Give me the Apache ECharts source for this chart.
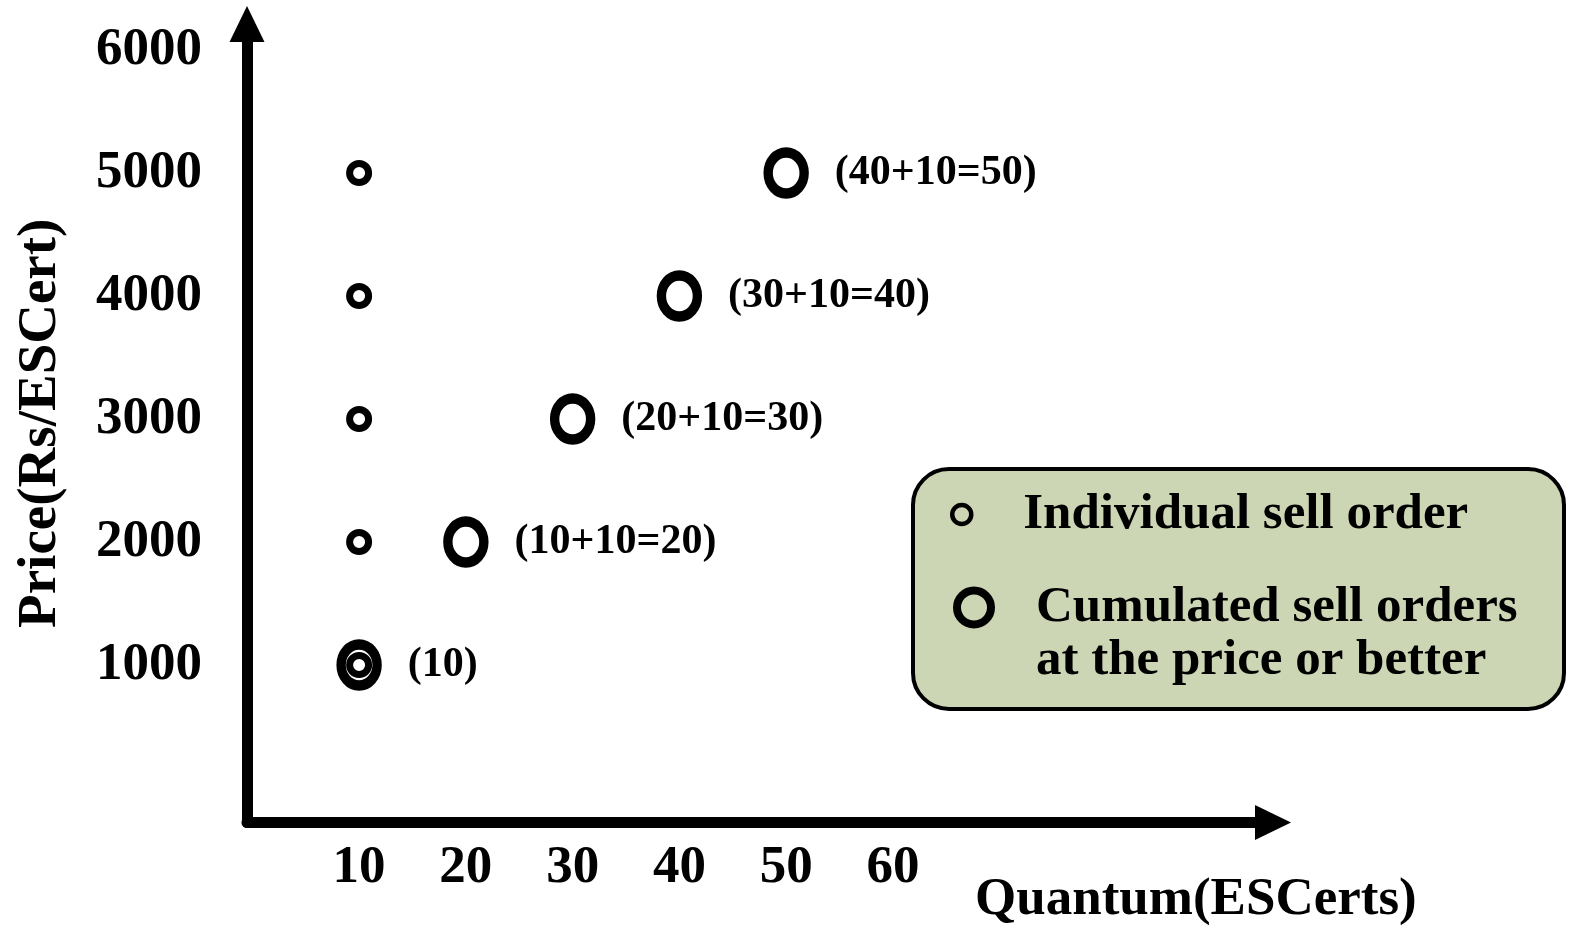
<!DOCTYPE html>
<html>
<head>
<meta charset="utf-8">
<script src="https://cdn.jsdelivr.net/npm/echarts@6/dist/echarts.min.js"></script>
<style>
html,body{margin:0;padding:0;background:#fff;}
#chart{width:1569px;height:927px;}
</style>
</head>
<body>
<div id="chart"></div>
<script>
// ---- data ----
var xTickValues = [10, 20, 30, 40, 50, 60];
var yTickValues = [1000, 2000, 3000, 4000, 5000, 6000];
var individualQty = [10, 10, 10, 10, 10];
var individualPrice = [1000, 2000, 3000, 4000, 5000];
var cumulatedQty = [10, 20, 30, 40, 50];
var cumulatedPrice = [1000, 2000, 3000, 4000, 5000];
var cumulatedLabels = ['(10)', '(10+10=20)', '(20+10=30)', '(30+10=40)', '(40+10=50)'];
var seriesNames = ['Individual sell order', 'Cumulated sell orders\nat the price or better'];
var xAxisName = 'Quantum(ESCerts)';
var yAxisName = 'Price(Rs/ESCert)';

var FONT = '"Liberation Serif", "DejaVu Serif", serif';

function pairs(xs, ys) {
  return xs.map(function (x, i) { return [x, ys[i]]; });
}

var chart = echarts.init(document.getElementById('chart'));
var axisLine = {
  show: true,
  onZero: false,
  symbol: ['none', 'triangle'],
  symbolSize: [35, 36],
  lineStyle: { color: '#000', width: 11 }
};
var tickLabel = {
  color: '#000',
  fontFamily: FONT,
  fontWeight: 'bold',
  fontSize: 53,
  formatter: function (v) { return String(v); }
};

chart.setOption({
  animation: false,
  backgroundColor: '#fff',
  grid: { left: 247, right: 296, top: 24, bottom: 104.5, containLabel: false, outerBoundsMode: 'none' },
  xAxis: {
    type: 'value',
    min: -0.5,
    max: 95.6,
    axisLine: axisLine,
    axisTick: { show: false },
    splitLine: { show: false },
    axisLabel: Object.assign({ customValues: xTickValues, margin: 19 }, tickLabel)
  },
  yAxis: {
    type: 'value',
    min: -280,
    max: 6211,
    axisLine: axisLine,
    axisTick: { show: false },
    splitLine: { show: false },
    axisLabel: Object.assign({ customValues: yTickValues, margin: 45 }, tickLabel),
    name: yAxisName,
    nameLocation: 'middle',
    nameRotate: 90,
    nameGap: 179,
    nameMoveOverlap: false,
    nameTextStyle: {
      color: '#000',
      fontFamily: FONT,
      fontWeight: 'bold',
      fontSize: 55
    }
  },
  legend: [
    {
      data: [{
        name: seriesNames[0],
        icon: 'circle',
        itemStyle: { color: 'transparent', borderColor: '#000', borderWidth: 4.5 }
      }],
      left: 950,
      top: 488,
      padding: 0,
      itemWidth: 19,
      itemHeight: 19,
      selectedMode: false,
      z: 10,
      textStyle: {
        color: '#000',
        fontFamily: FONT,
        fontWeight: 'bold',
        fontSize: 51,
        lineHeight: 53,
        padding: [0, 0, 0, 47]
      }
    },
    {
      data: [{
        name: seriesNames[1],
        icon: 'circle',
        itemStyle: { color: 'transparent', borderColor: '#000', borderWidth: 8 }
      }],
      formatter: function (name) { return ' \n' + name; },
      left: 953,
      top: 528,
      padding: 0,
      itemWidth: 34,
      itemHeight: 34,
      selectedMode: false,
      z: 10,
      textStyle: {
        color: '#000',
        fontFamily: FONT,
        fontWeight: 'bold',
        fontSize: 51,
        lineHeight: 53,
        padding: [0, 0, 0, 40]
      }
    }
  ],
  graphic: [
    {
      type: 'rect',
      z: 1,
      shape: { x: 913, y: 469, width: 651, height: 240, r: 36 },
      style: { fill: '#cdd6b4', stroke: '#000', lineWidth: 4 }
    },
    {
      type: 'text',
      z: 5,
      x: 975,
      y: 900,
      style: {
        text: xAxisName,
        fill: '#000',
        font: 'bold 53px ' + FONT,
        align: 'left',
        verticalAlign: 'middle'
      }
    }
  ],
  series: [
    {
      name: seriesNames[0],
      type: 'scatter',
      z: 3,
      symbol: 'circle',
      symbolSize: 19,
      itemStyle: { color: 'transparent', borderColor: '#000', borderWidth: 7, opacity: 1 },
      data: pairs(individualQty, individualPrice)
    },
    {
      name: seriesNames[1],
      type: 'scatter',
      z: 3,
      symbol: 'circle',
      symbolSize: [36, 41],
      itemStyle: { color: 'transparent', borderColor: '#000', borderWidth: 10, opacity: 1 },
      label: {
        show: true,
        position: 'right',
        distance: 26,
        color: '#000',
        fontFamily: FONT,
        fontWeight: 'bold',
        fontSize: 42,
        formatter: function (p) { return cumulatedLabels[p.dataIndex]; }
      },
      data: pairs(cumulatedQty, cumulatedPrice)
    }
  ]
});
</script>
</body>
</html>
